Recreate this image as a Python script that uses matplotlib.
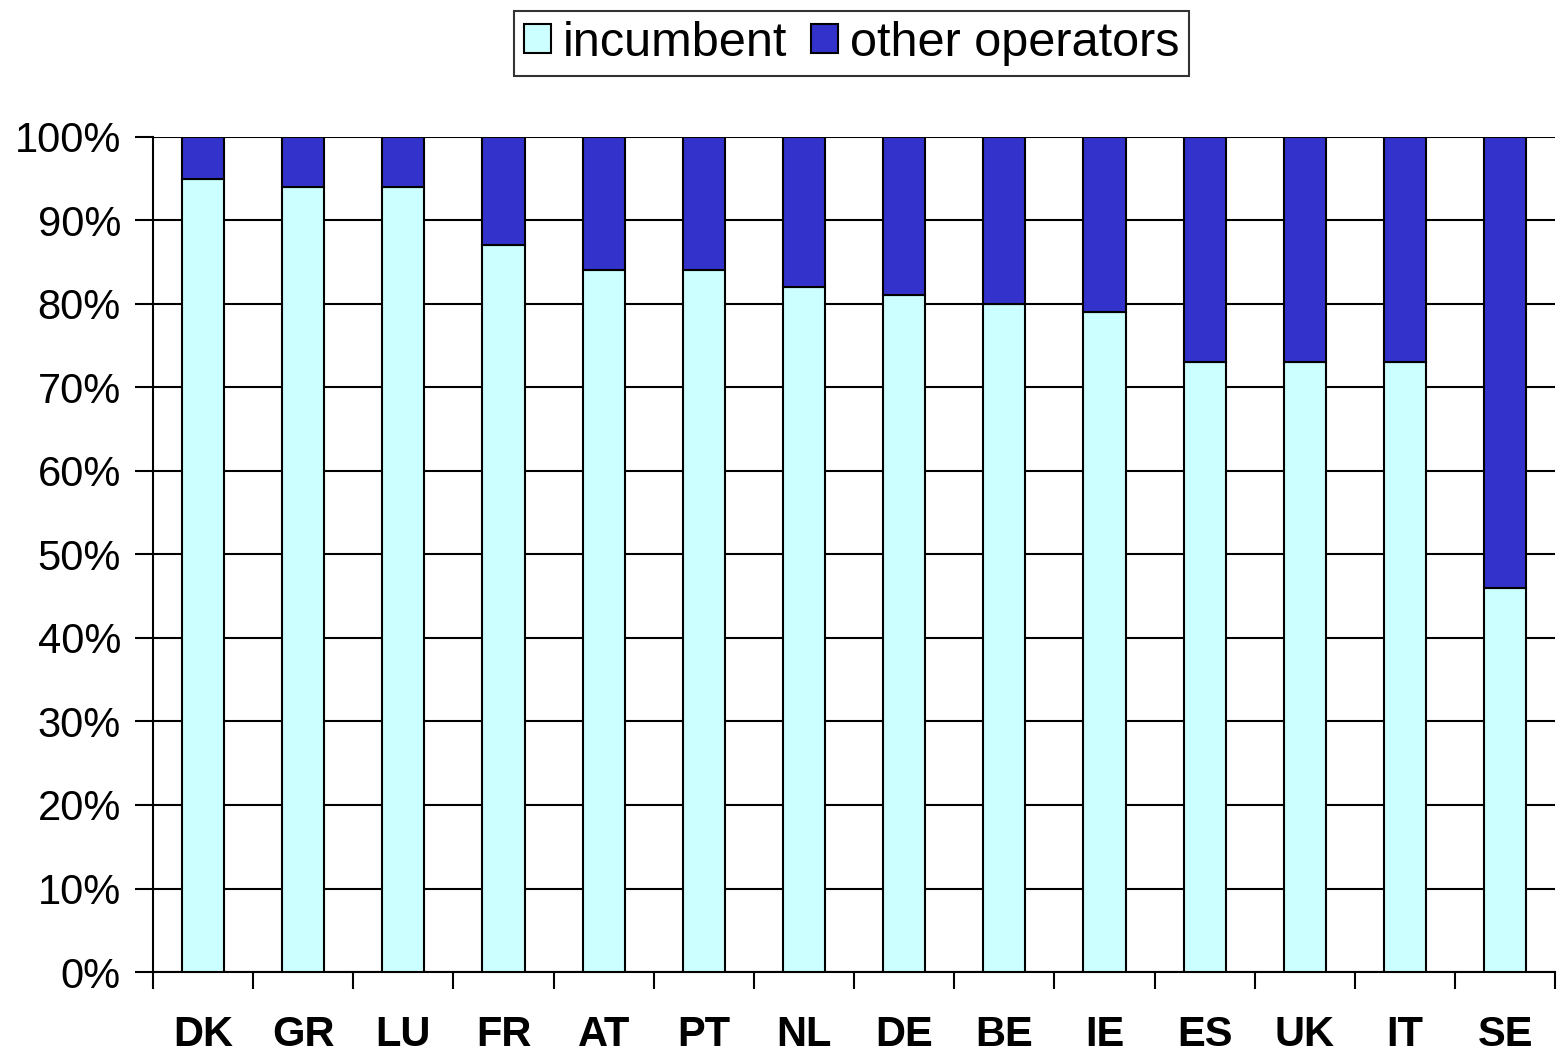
import numpy as np
import matplotlib.pyplot as plt
from matplotlib.ticker import FuncFormatter

countries = ['DK', 'GR', 'LU', 'FR', 'AT', 'PT', 'NL', 'DE', 'BE', 'IE', 'ES', 'UK', 'IT', 'SE']
incumbent = [95, 94, 94, 87, 84, 84, 82, 81, 80, 79, 73, 73, 73, 46]
other_operators = [5, 6, 6, 13, 16, 16, 18, 19, 20, 21, 27, 27, 27, 54]

plt.rcParams['font.family'] = ['Liberation Sans', 'DejaVu Sans']

fig = plt.figure(figsize=(15.6, 10.52), dpi=100)
ax = fig.add_axes([0.098, 0.076, 0.899, 0.794])

x = np.arange(len(countries))
ax.bar(x, incumbent, width=0.42, color='#ccffff', edgecolor='black', linewidth=1.5, label='incumbent', zorder=3)
ax.bar(x, other_operators, width=0.42, bottom=incumbent, color='#3333cc', edgecolor='black', linewidth=1.5,
       label='other operators', zorder=3)

ax.set_xlim(-0.5, len(countries) - 0.5)
ax.set_ylim(0, 100)
ax.set_yticks(range(0, 101, 10))
ax.yaxis.set_major_formatter(FuncFormatter(lambda v, p: '%d%%' % v))
ax.grid(axis='y', color='black', linewidth=1.5, zorder=0)

ax.set_xticks(x)
ax.set_xticklabels(countries, fontsize=30, fontweight='bold')
ax.set_xticks(np.arange(-0.5, len(countries), 1), minor=True)
ax.tick_params(axis='x', which='major', length=0, pad=31)
ax.tick_params(axis='x', which='minor', length=12, width=1.5, direction='out')
ax.tick_params(axis='y', labelsize=30, length=13, width=1.5, pad=10)

for s in ['top', 'right']:
    ax.spines[s].set_visible(False)
ax.spines['left'].set_linewidth(1.5)
ax.spines['bottom'].set_linewidth(1.5)

leg = fig.legend(loc='upper center', bbox_to_anchor=(0.546, 0.994), ncol=2, fontsize=35,
                 frameon=True, fancybox=False, edgecolor='black', handlelength=0.55, handleheight=0.55,
                 handletextpad=0.25, columnspacing=0.5, borderpad=0.2, borderaxespad=0.1)
leg.get_frame().set_linewidth(1.5)

fig.savefig('out.png', dpi=100)
